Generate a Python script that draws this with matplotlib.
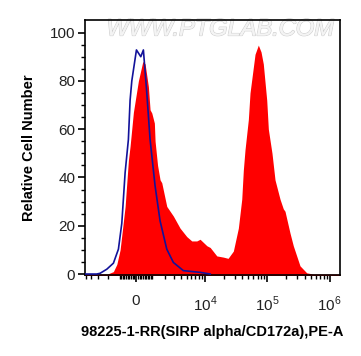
import numpy as np
import matplotlib
matplotlib.use("Agg")
import matplotlib.pyplot as plt
import matplotlib.patheffects as pe
from matplotlib.ticker import FixedLocator, NullFormatter

plt.rcParams["font.family"] = ["Liberation Sans", "DejaVu Sans"]
plt.rcParams["mathtext.fontset"] = "custom"
plt.rcParams["mathtext.rm"] = "Liberation Sans"

# stained sample (red, filled)
red_x = [-5100, -2000, -1490, -1226, -992, -660, -457, -354, -158, 135, 396,
         536, 744, 855, 970, 1152, 1204, 1392, 1593, 1736, 2203, 2934, 3857,
         5016, 6075, 7346, 8313, 10735, 12125, 15510, 19800, 23540, 28600,
         34400, 39000, 41340, 44000, 49750, 52900, 63650, 71900, 79400,
         86400, 98000, 104000, 119000, 133000, 160000, 180500, 192200,
         231000, 261000, 334000, 427700, 539600, 1460000]
red_y = [0, 0, 1, 4, 10, 28, 47, 53, 67, 80, 88,
         87, 77.6, 68, 66.7, 62.5, 55, 45, 39, 37.8, 28, 24, 19,
         15.5, 13.7, 13.7, 14.4, 11.7, 11, 7.5, 7, 6.5, 9.5,
         19, 31, 43, 51.5, 64, 75, 91, 94.8, 92,
         87, 72, 60, 50, 39, 31, 27, 26,
         17, 11.7, 3.4, 0.5, 0, 0]

# control (blue line)
blue_x = [-5100, -3200, -2785, -2067, -1487, -1109, -876, -660, -457, -354,
          -252, 20, 276, 432, 642, 855, 1204, 1593, 2203, 2934, 4395, 8313,
          12125]
blue_y = [0, 0, 0.3, 2, 4.5, 10.3, 21, 42, 55.7, 72,
          80, 92.8, 90, 92.8, 75, 55.7, 36.5, 22, 10.3, 4.8, 1.4, 0.7,
          0]

C = 1587.0


def fwd(x):
    return np.arcsinh(np.asarray(x, dtype=float) / C)


def inv(u):
    return C * np.sinh(np.asarray(u, dtype=float))


fig = plt.figure(figsize=(3.61, 3.56), dpi=100)
ax = fig.add_axes([85 / 361, 81 / 356, 255 / 361, 255 / 356])
ax.set_xscale("function", functions=(fwd, inv))

ax.fill_between(red_x, red_y, -1, color="#ff0000", lw=0, zorder=2)
ax.plot(blue_x, blue_y, color="#12129a", lw=1.2, zorder=3)

ax.set_xlim(-5100, 1460000)
ax.set_ylim(-0.4, 105.2)

# x ticks
major = [0, 1e4, 1e5, 1e6]
minor = [-s * m for m in (100, 1000) for s in range(1, 10) if s * m <= 5000]
minor += [s * m for m in (100, 1000, 10000, 100000) for s in range(1, 10)
          if s * m not in major]
ax.xaxis.set_major_locator(FixedLocator(major))
ax.xaxis.set_minor_locator(FixedLocator(minor))
ax.set_xticklabels(["0", "$10^4$", "$10^5$", "$10^6$"])
ax.xaxis.set_minor_formatter(NullFormatter())

ax.set_yticks([0, 20, 40, 60, 80, 100])
ax.set_yticks(np.arange(0, 105, 5), minor=True)

ax.tick_params(axis="both", which="major", length=5, width=1.2,
               labelsize=11, colors="black", labelcolor="#222222")
ax.tick_params(axis="both", which="minor", length=3, width=1)
ax.tick_params(axis="x", which="major", pad=9)
ax.tick_params(axis="y", which="major", pad=2)

for s in ax.spines.values():
    s.set_linewidth(1.2)

ax.set_xlabel("98225-1-RR(SIRP alpha/CD172a),PE-A", fontsize=10.5,
              fontweight="bold", labelpad=8)
ax.set_ylabel("Relative Cell Number", fontsize=10.5, fontweight="bold",
              labelpad=10)

wm = ax.text(0.53, 0.965, "WWW.PTGLAB.COM", transform=ax.transAxes,
             ha="center", va="center", fontsize=17, style="italic",
             color="#f4f4f4", zorder=1)
wm.set_path_effects([pe.withStroke(linewidth=1.0, foreground="#cfcfcf"),
                     pe.Normal()])

fig.savefig("out.png", dpi=100)
